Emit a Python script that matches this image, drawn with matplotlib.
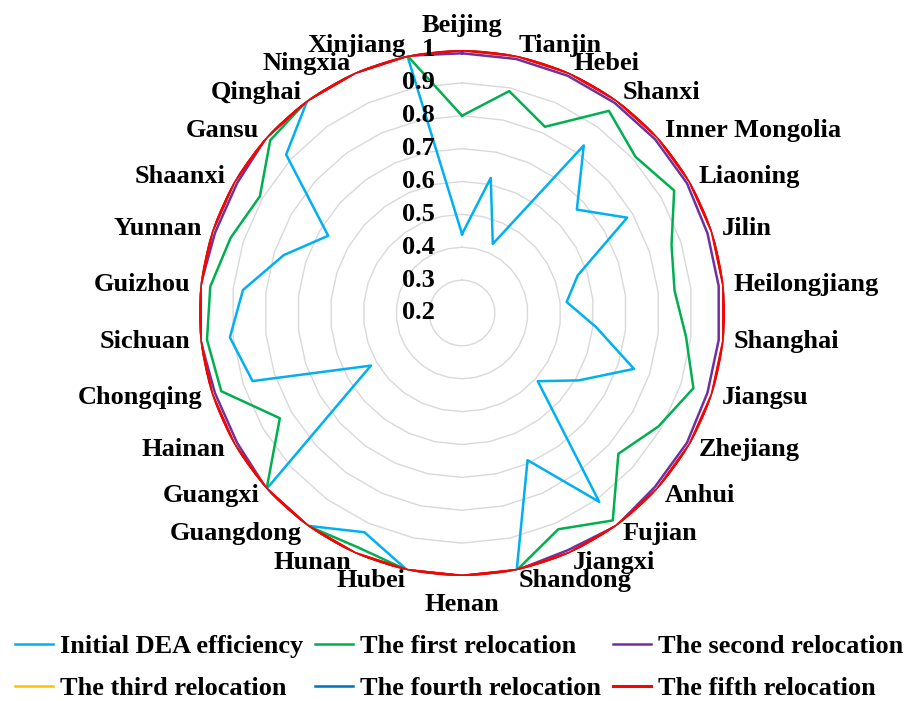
import numpy as np
import matplotlib.pyplot as plt

plt.rcParams['font.family'] = 'Liberation Serif'
plt.rcParams['font.weight'] = 'bold'

provinces = ['Beijing', 'Tianjin', 'Hebei', 'Shanxi', 'Inner Mongolia', 'Liaoning',
             'Jilin', 'Heilongjiang', 'Shanghai', 'Jiangsu', 'Zhejiang', 'Anhui',
             'Fujian', 'Jiangxi', 'Shandong', 'Henan', 'Hubei', 'Hunan', 'Guangdong',
             'Guangxi', 'Hainan', 'Chongqing', 'Sichuan', 'Guizhou', 'Yunnan',
             'Shaanxi', 'Gansu', 'Qinghai', 'Ningxia', 'Xinjiang']

initial = [0.44, 0.62, 0.43, 0.83, 0.67, 0.78, 0.57, 0.52, 0.61, 0.75,
           0.61, 0.51, 0.91, 0.69, 1.00, 1.00, 1.00, 0.93, 1.00, 1.00,
           0.52, 0.87, 0.91, 0.87, 0.77, 0.67, 0.92, 1.00, 1.00, 1.00]
first = [0.80, 0.89, 0.82, 0.96, 0.91, 0.945, 0.87, 0.85, 0.885, 0.94,
         0.89, 0.84, 0.98, 0.92, 1.00, 1.00, 1.00, 0.98, 1.00, 1.00,
         0.84, 0.97, 0.98, 0.97, 0.94, 0.91, 0.985, 1.00, 1.00, 1.00]
second = [0.99, 0.99, 0.99, 0.99, 0.99, 0.99, 0.985, 0.985, 0.985, 0.985,
          0.99, 0.99, 1.00, 0.99, 1.00, 1.00, 1.00, 1.00, 1.00, 1.00,
          0.99, 0.99, 1.00, 1.00, 0.99, 0.99, 1.00, 1.00, 1.00, 1.00]
third = [1.00, 1.00, 1.00, 1.00, 1.00, 1.00, 1.00, 1.00, 1.00, 1.00,
         1.00, 1.00, 1.00, 1.00, 1.00, 1.00, 1.00, 1.00, 1.00, 1.00,
         1.00, 1.00, 1.00, 1.00, 1.00, 1.00, 1.00, 1.00, 1.00, 1.00]
fourth = [1.00, 1.00, 1.00, 1.00, 1.00, 1.00, 1.00, 1.00, 1.00, 1.00,
          1.00, 1.00, 1.00, 1.00, 1.00, 1.00, 1.00, 1.00, 1.00, 1.00,
          1.00, 1.00, 1.00, 1.00, 1.00, 1.00, 1.00, 1.00, 1.00, 1.00]
fifth = [1.00, 1.00, 1.00, 1.00, 1.00, 1.00, 1.00, 1.00, 1.00, 1.00,
         1.00, 1.00, 1.00, 1.00, 1.00, 1.00, 1.00, 1.00, 1.00, 1.00,
         1.00, 1.00, 1.00, 1.00, 1.00, 1.00, 1.00, 1.00, 1.00, 1.00]

series_names = ['Initial DEA efficiency', 'The first relocation', 'The second relocation',
                'The third relocation', 'The fourth relocation', 'The fifth relocation']
series_colors = ['#00B0F0', '#00B050', '#7030A0', '#FFC000', '#0070C0', '#FF0000']
ticks = [0.2, 0.3, 0.4, 0.5, 0.6, 0.7, 0.8, 0.9, 1.0]
tick_labels = ['0.2', '0.3', '0.4', '0.5', '0.6', '0.7', '0.8', '0.9', '1']

n = len(provinces)
theta = np.arange(n) * 2 * np.pi / n
theta_c = np.append(theta, theta[0])
fs = 19

fig = plt.figure(figsize=(9.18, 7.01), dpi=100)
ax = fig.add_axes([0.2168, 0.1783, 0.573, 0.7504], projection='polar')
ax.set_theta_zero_location('N')
ax.set_theta_direction(-1)
ax.set_ylim(0.2, 1.0)
ax.grid(False)
ax.set_xticks([])
ax.set_yticks([])
ax.spines['polar'].set_visible(False)

# polygon gridlines
for t in ticks[1:]:
    ax.plot(theta_c, [t] * (n + 1), color='#D9D9D9', lw=1.0, zorder=1)

handles = []
all_series = [initial, first, second, third, fourth, fifth]
for vals, name, col in zip(all_series, series_names, series_colors):
    v = np.append(vals, vals[0])
    lw = 2.2 if col == '#FF0000' else 1.8
    h, = ax.plot(theta_c, v, color=col, lw=lw, label=name, zorder=3)
    handles.append(h)

# radial value labels
for t, lab in zip(ticks, tick_labels):
    ax.annotate(lab, xy=(0, t), xytext=(-27, 0), textcoords='offset pixels',
                ha='right', va='center', fontsize=fs, fontweight='bold', zorder=5)

# category labels
d = 10
for ang, name in zip(theta, provinces):
    s, c = np.sin(ang), np.cos(ang)
    if abs(s) < 1e-6:
        ha = 'center'
        va = 'bottom' if c > 0 else 'top'
        off = (0, 13) if c > 0 else (0, -17)
    else:
        ha = 'left' if s > 0 else 'right'
        va = 'center'
        off = (d * s, d * c)
    ax.annotate(name, xy=(ang, 1.0), xytext=off, textcoords='offset pixels',
                ha=ha, va=va, fontsize=fs, fontweight='bold', annotation_clip=False)

order = [0, 3, 1, 4, 2, 5]
fig.legend([handles[i] for i in order], [series_names[i] for i in order],
           loc='lower center', bbox_to_anchor=(0.5, -0.033), ncol=3, frameon=False,
           fontsize=fs, handlelength=1.45, handletextpad=0.25, columnspacing=0.45,
           labelspacing=0.7)

fig.savefig('out.png', dpi=100)
